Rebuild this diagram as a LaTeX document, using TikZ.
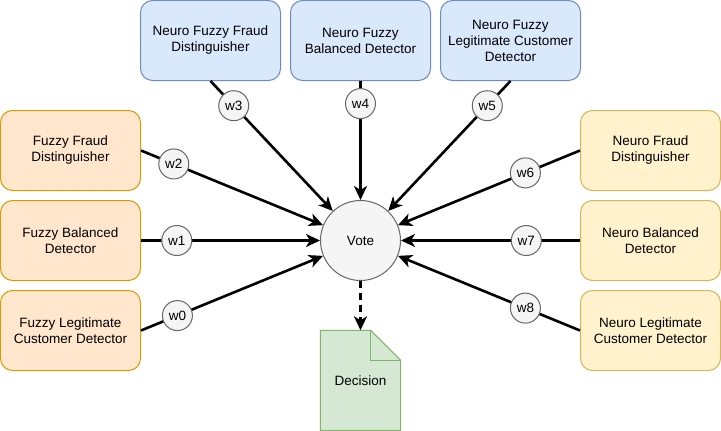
\documentclass[tikz,border=0pt]{standalone}
\usepackage{fontspec}
\setmainfont{Liberation Sans}
\usetikzlibrary{arrows.meta,backgrounds}

\definecolor{fuzzyfill}{HTML}{FFE6CC}
\definecolor{fuzzyline}{HTML}{D79B00}
\definecolor{nfuzzyfill}{HTML}{DAE8FC}
\definecolor{nfuzzyline}{HTML}{6C8EBF}
\definecolor{neurofill}{HTML}{FFF2CC}
\definecolor{neuroline}{HTML}{D6B656}
\definecolor{votefill}{HTML}{F5F5F5}
\definecolor{voteline}{HTML}{666666}
\definecolor{decfill}{HTML}{D5E8D4}
\definecolor{decline}{HTML}{82B366}

\begin{document}
\begin{tikzpicture}[x=1pt,y=-1pt,
  every node/.style={font=\fontsize{13.5}{16}\selectfont},
  box/.style={draw, rounded corners=12pt, line width=1pt, minimum width=140pt, minimum height=80pt, align=center},
  fuzzy/.style={box, fill=fuzzyfill, draw=fuzzyline},
  nfuzzy/.style={box, fill=nfuzzyfill, draw=nfuzzyline},
  neuro/.style={box, fill=neurofill, draw=neuroline},
  weight/.style={circle, draw=voteline, fill=votefill, line width=1pt, minimum size=30pt, inner sep=0pt},
  vin/.style={line width=2.6pt, -{Stealth[length=14pt,width=13pt,inset=4pt]}}
]

\useasboundingbox (-0.5,-0.5) rectangle (720.5,430.5);

% fuzzy detectors
\node[fuzzy] (ffd) at (70,150) {Fuzzy Fraud\\Distinguisher};
\node[fuzzy] (fbd) at (70,240) {Fuzzy Balanced\\Detector};
\node[fuzzy] (flcd) at (70,330) {Fuzzy Legitimate\\Customer Detector};

% neuro fuzzy detectors
\node[nfuzzy] (nffd) at (210,40) {Neuro Fuzzy Fraud\\Distinguisher};
\node[nfuzzy] (nfbd) at (360,40) {Neuro Fuzzy\\Balanced Detector};
\node[nfuzzy] (nflcd) at (510,40) {Neuro Fuzzy\\Legitimate Customer\\Detector};

% neuro detectors
\node[neuro] (nfd) at (650,150) {Neuro Fraud\\Distinguisher};
\node[neuro] (nbd) at (650,240) {Neuro Balanced\\Detector};
\node[neuro] (nlcd) at (650,330) {Neuro Legitimate\\Customer Detector};

\node[circle, draw=voteline, fill=votefill, line width=1pt, minimum size=80pt] (vote) at (360,240) {Vote};

\node[minimum width=80pt, minimum height=100pt] (dec) at (360,380) {Decision};
\begin{scope}[on background layer]
\draw[fill=decfill, draw=decline, line width=1pt] (dec.north west) -- ([xshift=-30pt]dec.north east) -- ([yshift=-30pt]dec.north east) -- (dec.south east) -- (dec.south west) -- cycle;
\draw[decline, line width=1pt] ([xshift=-30pt]dec.north east) |- ([yshift=-30pt]dec.north east);
\end{scope}

\draw[vin] (flcd.east) -- node[weight, pos=0.2] (w0) {w0} (vote);
\draw[vin] (fbd.east) -- node[weight, pos=0.2] (w1) {w1} (vote);
\draw[vin] (ffd.east) -- node[weight, pos=0.18] (w2) {w2} (vote);
\draw[vin] (nffd.south) -- node[weight, pos=0.19] (w3) {w3} (vote);
\draw[vin] (nfbd.south) -- node[weight, pos=0.19] (w4) {w4} (vote);
\draw[vin] (nflcd.south) -- node[weight, pos=0.19] (w5) {w5} (vote);
\draw[vin] (nfd.west) -- node[weight, pos=0.3] (w6) {w6} (vote);
\draw[vin] (nbd.west) -- node[weight, pos=0.3] (w7) {w7} (vote);
\draw[vin] (nlcd.west) -- node[weight, pos=0.3] (w8) {w8} (vote);

\draw[vin, dash pattern=on 7pt off 5pt] (vote) -- (dec);

\end{tikzpicture}
\end{document}
